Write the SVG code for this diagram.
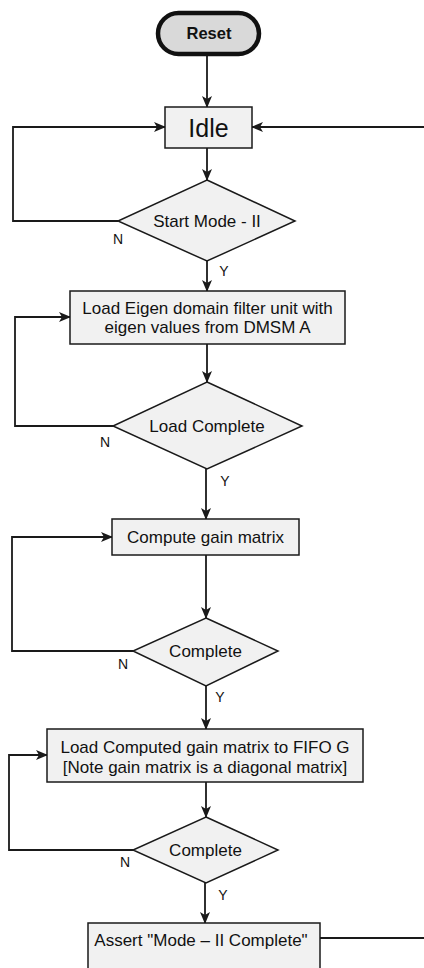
<svg xmlns="http://www.w3.org/2000/svg" width="424" height="968" viewBox="0 0 424 968">
  <style>
    .box { fill: #f1f1f1; stroke: #1a1a1a; stroke-width: 1.5; }
    .term { fill: #d9d9d9; stroke: #111; stroke-width: 4.5; }
    .txt { font-family: "Liberation Sans", Arial, sans-serif; font-size: 17px; fill: #111; text-anchor: middle; dominant-baseline: central; }
    .lbl { font-family: "Liberation Sans", Arial, sans-serif; font-size: 14px; fill: #111; text-anchor: middle; }
    .wire { fill: none; stroke: #1a1a1a; stroke-width: 1.8; }
  </style>
  <defs>
    <marker id="arrow" markerWidth="12" markerHeight="10" refX="11" refY="5" orient="auto" markerUnits="userSpaceOnUse">
      <path d="M0,0 L12,5 L0,10 L3,5 Z" fill="#1a1a1a"/>
    </marker>
  </defs>

  <!-- connectors -->
  <g id="connectors">
    <path class="wire" d="M207,55 V107" marker-end="url(#arrow)"/>
    <path class="wire" d="M207,148 V180" marker-end="url(#arrow)"/>
    <path class="wire" d="M207,261 V291" marker-end="url(#arrow)"/>
    <path class="wire" d="M207,344 V382" marker-end="url(#arrow)"/>
    <path class="wire" d="M206,469 V519" marker-end="url(#arrow)"/>
    <path class="wire" d="M206,555 V618" marker-end="url(#arrow)"/>
    <path class="wire" d="M206,686 V729" marker-end="url(#arrow)"/>
    <path class="wire" d="M206,782 V817" marker-end="url(#arrow)"/>
    <path class="wire" d="M205,883 V923" marker-end="url(#arrow)"/>
    <!-- N loops back -->
    <path class="wire" d="M118,221 H13 V127 H165" marker-end="url(#arrow)"/>
    <path class="wire" d="M113,426 H15 V317 H70" marker-end="url(#arrow)"/>
    <path class="wire" d="M133,651 H12 V537 H112" marker-end="url(#arrow)"/>
    <path class="wire" d="M133,850 H9 V755 H47" marker-end="url(#arrow)"/>
    <!-- return to Idle -->
    <path class="wire" d="M424,127 H252" marker-end="url(#arrow)"/>
    <path class="wire" d="M320,938 H424"/>
    <!-- branch labels -->
    <text class="lbl" x="118" y="244">N</text>
    <text class="lbl" x="224" y="276">Y</text>
    <text class="lbl" x="105" y="447">N</text>
    <text class="lbl" x="225" y="486">Y</text>
    <text class="lbl" x="123" y="669">N</text>
    <text class="lbl" x="220" y="702">Y</text>
    <text class="lbl" x="125" y="867">N</text>
    <text class="lbl" x="223" y="900">Y</text>
  </g>

  <g id="reset">
    <rect class="term" x="158" y="13" width="101" height="41" rx="20.5"/>
    <text class="txt" x="209" y="33" style="font-weight:bold;font-size:16.5px">Reset</text>
  </g>

  <g id="idle">
    <rect class="box" x="165" y="107" width="87" height="41"/>
    <text class="txt" x="208.5" y="127.5" style="font-size:25px">Idle</text>
  </g>

  <g id="start-mode">
    <polygon class="box" points="207,180 295,221 207,261 118,221"/>
    <text class="txt" x="207" y="221">Start Mode - II</text>
  </g>

  <g id="load-eigen">
    <rect class="box" x="70" y="291" width="275" height="53"/>
    <text class="txt" x="207.5" y="308">Load Eigen domain filter unit with</text>
    <text class="txt" x="207.5" y="327">eigen values from DMSM A</text>
  </g>

  <g id="load-complete">
    <polygon class="box" points="207,382 302,426 207,469 113,426"/>
    <text class="txt" x="207" y="426">Load Complete</text>
  </g>

  <g id="compute-gain">
    <rect class="box" x="112" y="519" width="187" height="36"/>
    <text class="txt" x="205.5" y="537">Compute gain matrix</text>
  </g>

  <g id="compute-complete">
    <polygon class="box" points="206,618 278,651 206,686 133,651"/>
    <text class="txt" x="205.5" y="651">Complete</text>
  </g>

  <g id="load-fifo">
    <rect class="box" x="47" y="729" width="316" height="53"/>
    <text class="txt" x="205" y="747">Load Computed gain matrix to FIFO G</text>
    <text class="txt" x="205" y="767">[Note gain matrix is a diagonal matrix]</text>
  </g>

  <g id="fifo-complete">
    <polygon class="box" points="206,817 278,850 206,883 133,850"/>
    <text class="txt" x="205.5" y="850">Complete</text>
  </g>

  <g id="assert-done">
    <rect class="box" x="88" y="923" width="232" height="60"/>
    <text class="txt" x="201" y="940">Assert "Mode – II Complete"</text>
  </g>
</svg>
